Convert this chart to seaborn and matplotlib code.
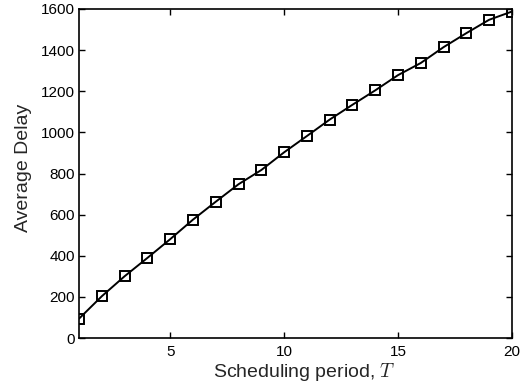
import numpy as np
import pandas as pd
import seaborn as sns
import matplotlib.pyplot as plt

# Data
period = list(range(1, 21))
avg_delay = [95, 204, 301, 390, 481, 576, 663, 748, 817, 903,
             982, 1062, 1134, 1204, 1278, 1337, 1414, 1482, 1547, 1587]

df = pd.DataFrame({"T": period, "delay": avg_delay})

sns.set_style("ticks")
plt.rcParams['font.family'] = ['Liberation Sans', 'DejaVu Sans']
plt.rcParams['mathtext.fontset'] = 'cm'

fig = plt.figure(figsize=(5.31, 3.86), dpi=100)
ax = fig.add_axes([0.149, 0.124, 0.815, 0.853])

sns.lineplot(data=df, x="T", y="delay", ax=ax, color="black", linewidth=1.4,
             marker="s", markersize=6.5, markerfacecolor="none",
             markeredgecolor="black", markeredgewidth=1.4)

ax.set_xlim(1, 20)
ax.set_ylim(0, 1600)
ax.set_xticks([5, 10, 15, 20])
ax.set_yticks(np.arange(0, 1601, 200))
ax.tick_params(direction="in", top=True, right=True, length=4, width=1,
               labelsize=11, colors="black")
ax.tick_params(axis="x", pad=5)
ax.tick_params(axis="y", pad=3)
for s in ax.spines.values():
    s.set_linewidth(1.2)
    s.set_color("black")

ax.set_xlabel("Scheduling period, $T$", fontsize=14)
ax.set_ylabel("Average Delay", fontsize=14)
ax.xaxis.set_label_coords(0.52, -0.068)
ax.yaxis.set_label_coords(-0.11, 0.517)

fig.savefig("out.png", dpi=100)
